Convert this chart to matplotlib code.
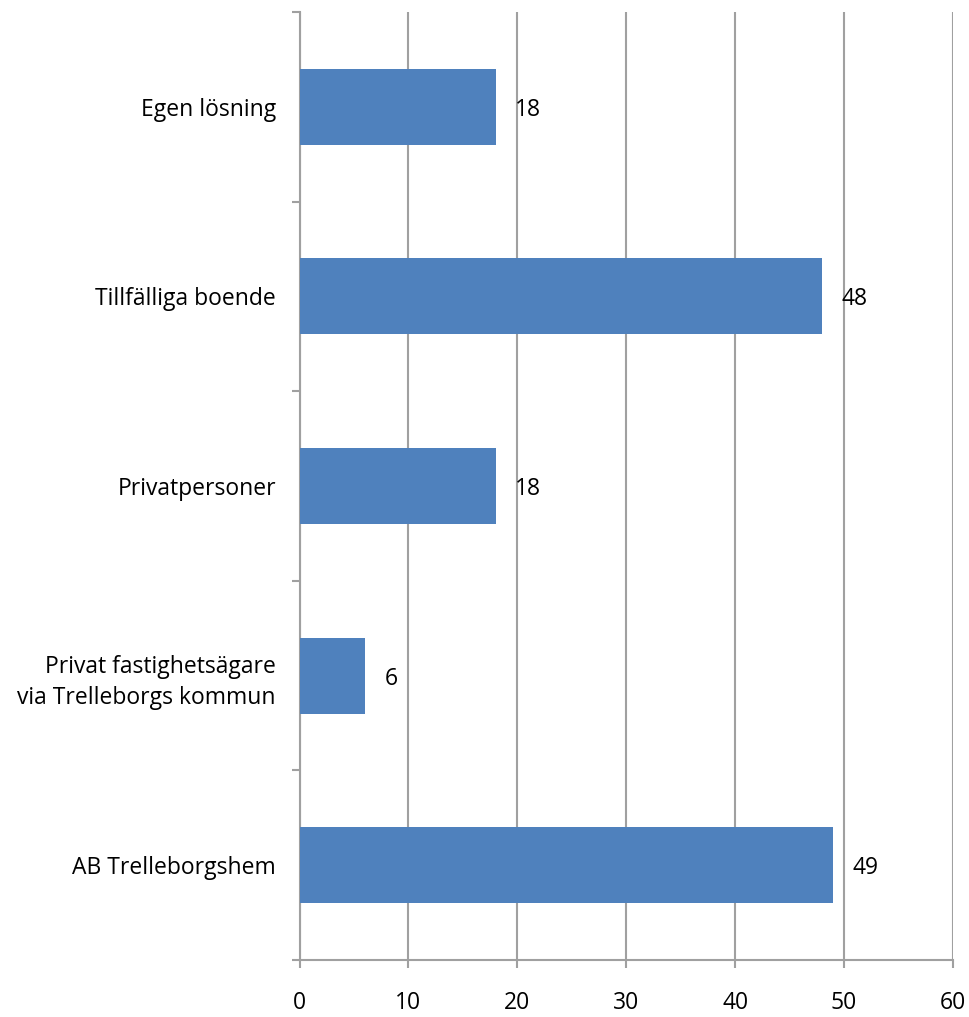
import numpy as np
import matplotlib.pyplot as plt

categories = ['AB Trelleborgshem', 'Privat fastighetsägare\nvia Trelleborgs kommun',
              'Privatpersoner', 'Tillfälliga boende', 'Egen lösning']
values = [49, 6, 18, 48, 18]
xticks = [0, 10, 20, 30, 40, 50, 60]

plt.rcParams['font.family'] = ['Open Sans', 'DejaVu Sans']
grey = '#a0a0a0'
fs = 16.5

fig = plt.figure(figsize=(9.7, 10.17), dpi=100)
ax = fig.add_axes([0.3088, 0.056, 0.6737, 0.9322])

y = np.arange(len(categories))
ax.barh(y, values, height=0.4, color='#4f81bd', zorder=3)
for yi, v in zip(y, values):
    ax.annotate(str(v), (v, yi), xytext=(14, 0), textcoords='offset points',
                va='center_baseline', ha='left', fontsize=fs)

ax.set_xlim(0, 60)
ax.set_ylim(-0.5, len(categories) - 0.5)
ax.set_xticks(xticks)
ax.set_yticks(y)
ax.set_yticklabels(categories, fontsize=fs, linespacing=1.4)
ax.set_yticks(np.arange(-0.5, len(categories)), minor=True)
ax.tick_params(axis='y', which='major', length=0, pad=17)
ax.tick_params(axis='y', which='minor', length=6, width=1.5, color=grey, direction='out')
ax.tick_params(axis='x', length=6, width=1.5, color=grey, direction='out', pad=16, labelsize=fs)

ax.grid(axis='x', color=grey, linewidth=1.5, zorder=0)
for s in ['top', 'right']:
    ax.spines[s].set_visible(False)
for s in ['left', 'bottom']:
    ax.spines[s].set_color(grey)
    ax.spines[s].set_linewidth(1.5)

fig.savefig('out.png', dpi=100)
